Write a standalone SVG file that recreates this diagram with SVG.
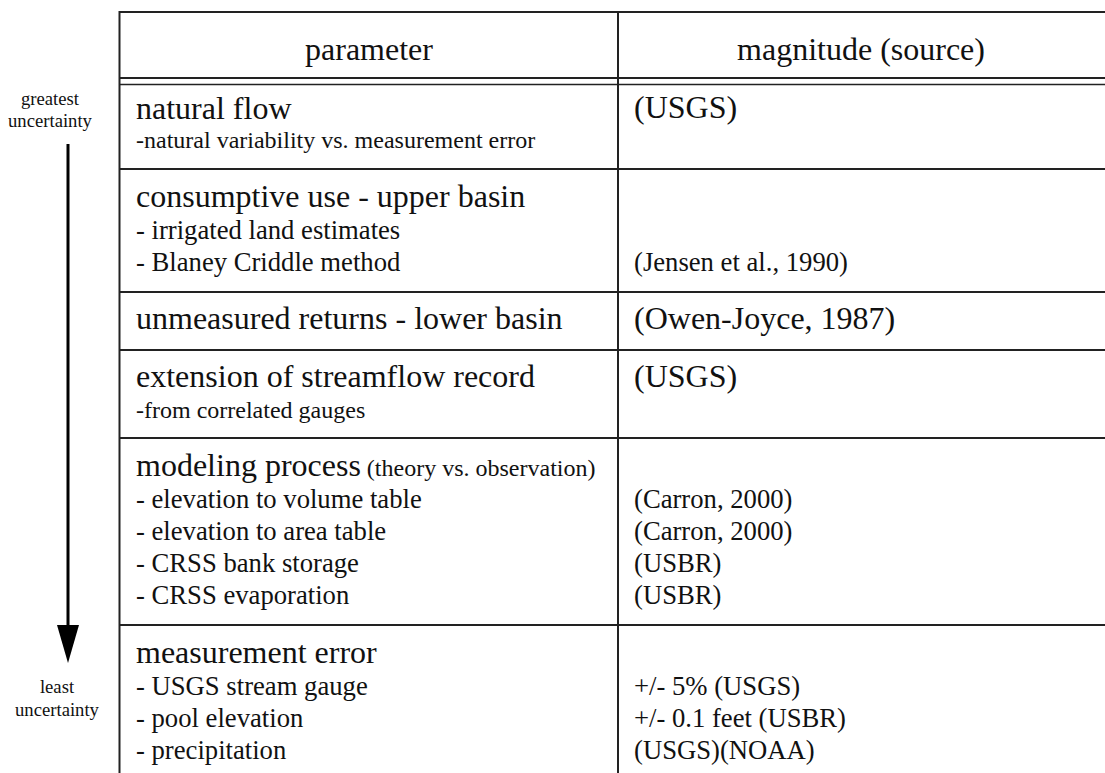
<svg xmlns="http://www.w3.org/2000/svg" width="1105" height="773" viewBox="0 0 1105 773">
  <style>
    .t { font-family: "Liberation Serif", "Times New Roman", serif; fill: #111; }
    .hd { font-size: 32px; text-anchor: middle; }
    .ti { font-size: 32px; }
    .it { font-size: 26.67px; }
    .sm { font-size: 24px; }
    .an { font-size: 18.67px; text-anchor: middle; }
    .rule { stroke: #222; stroke-width: 2; fill: none; }
    .rule2 { stroke: #222; stroke-width: 1.5; fill: none; }
  </style>
  <defs>
    <marker id="head" viewBox="0 0 22 38" refX="11" refY="38" markerWidth="22" markerHeight="38" markerUnits="userSpaceOnUse" orient="auto-start-reverse">
      <path d="M0,0 L22,0 L11,38 Z" fill="#000"/>
    </marker>
  </defs>
  <rect width="1105" height="773" fill="#fff"/>

  <!-- uncertainty scale beside the table -->
  <g id="scale">
    <text class="t an" x="50" y="105">greatest</text>
    <text class="t an" x="50" y="127">uncertainty</text>
    <text class="t an" x="57" y="693">least</text>
    <text class="t an" x="57" y="716">uncertainty</text>
  </g>
  <g id="connectors">
    <line x1="68" y1="144" x2="68" y2="627" stroke="#000" stroke-width="3"/>
    <path d="M57,625 L79,625 L68,663 Z" fill="#000"/>
  </g>

  <!-- table grid -->
  <g id="grid">
    <line class="rule" x1="119" y1="12" x2="1105" y2="12"/>
    <line class="rule" x1="119.5" y1="11" x2="119.5" y2="773"/>
    <line class="rule" x1="618" y1="12" x2="618" y2="773"/>
    <line class="rule" x1="119" y1="78" x2="1105" y2="78"/>
    <line class="rule2" x1="119" y1="84.5" x2="1105" y2="84.5"/>
    <line class="rule" x1="119" y1="169" x2="1105" y2="169"/>
    <line class="rule" x1="119" y1="292" x2="1105" y2="292"/>
    <line class="rule" x1="119" y1="350" x2="1105" y2="350"/>
    <line class="rule" x1="119" y1="438" x2="1105" y2="438"/>
    <line class="rule" x1="119" y1="625" x2="1105" y2="625"/>
  </g>

  <g id="header">
    <text class="t hd" x="369" y="60">parameter</text>
    <text class="t hd" x="861" y="60">magnitude (source)</text>
  </g>

  <g id="row-natural-flow">
    <text class="t ti" x="136" y="119">natural flow</text>
    <text class="t sm" x="136" y="148">-natural variability vs. measurement error</text>
    <text class="t ti" x="634" y="118">(USGS)</text>
  </g>

  <g id="row-consumptive-use">
    <text class="t ti" x="136" y="207">consumptive use - upper basin</text>
    <text class="t it" x="136" y="239">- irrigated land estimates</text>
    <text class="t it" x="136" y="271">- Blaney Criddle method</text>
    <text class="t it" x="634" y="271">(Jensen et al., 1990)</text>
  </g>

  <g id="row-unmeasured-returns">
    <text class="t ti" x="136" y="329">unmeasured returns - lower basin</text>
    <text class="t ti" x="634" y="329">(Owen-Joyce, 1987)</text>
  </g>

  <g id="row-streamflow-extension">
    <text class="t ti" x="136" y="387">extension of streamflow record</text>
    <text class="t sm" x="136" y="418">-from correlated gauges</text>
    <text class="t ti" x="634" y="387">(USGS)</text>
  </g>

  <g id="row-modeling-process">
    <text class="t ti" x="136" y="476">modeling process<tspan class="sm"> (theory vs. observation)</tspan></text>
    <text class="t it" x="136" y="508">- elevation to volume table</text>
    <text class="t it" x="136" y="540">- elevation to area table</text>
    <text class="t it" x="136" y="572">- CRSS bank storage</text>
    <text class="t it" x="136" y="604">- CRSS evaporation</text>
    <text class="t it" x="634" y="508">(Carron, 2000)</text>
    <text class="t it" x="634" y="540">(Carron, 2000)</text>
    <text class="t it" x="634" y="572">(USBR)</text>
    <text class="t it" x="634" y="604">(USBR)</text>
  </g>

  <g id="row-measurement-error">
    <text class="t ti" x="136" y="663">measurement error</text>
    <text class="t it" x="136" y="695">- USGS stream gauge</text>
    <text class="t it" x="136" y="727">- pool elevation</text>
    <text class="t it" x="136" y="759">- precipitation</text>
    <text class="t it" x="634" y="695">+/- 5% (USGS)</text>
    <text class="t it" x="634" y="727">+/- 0.1 feet (USBR)</text>
    <text class="t it" x="634" y="759">(USGS)(NOAA)</text>
  </g>
</svg>
